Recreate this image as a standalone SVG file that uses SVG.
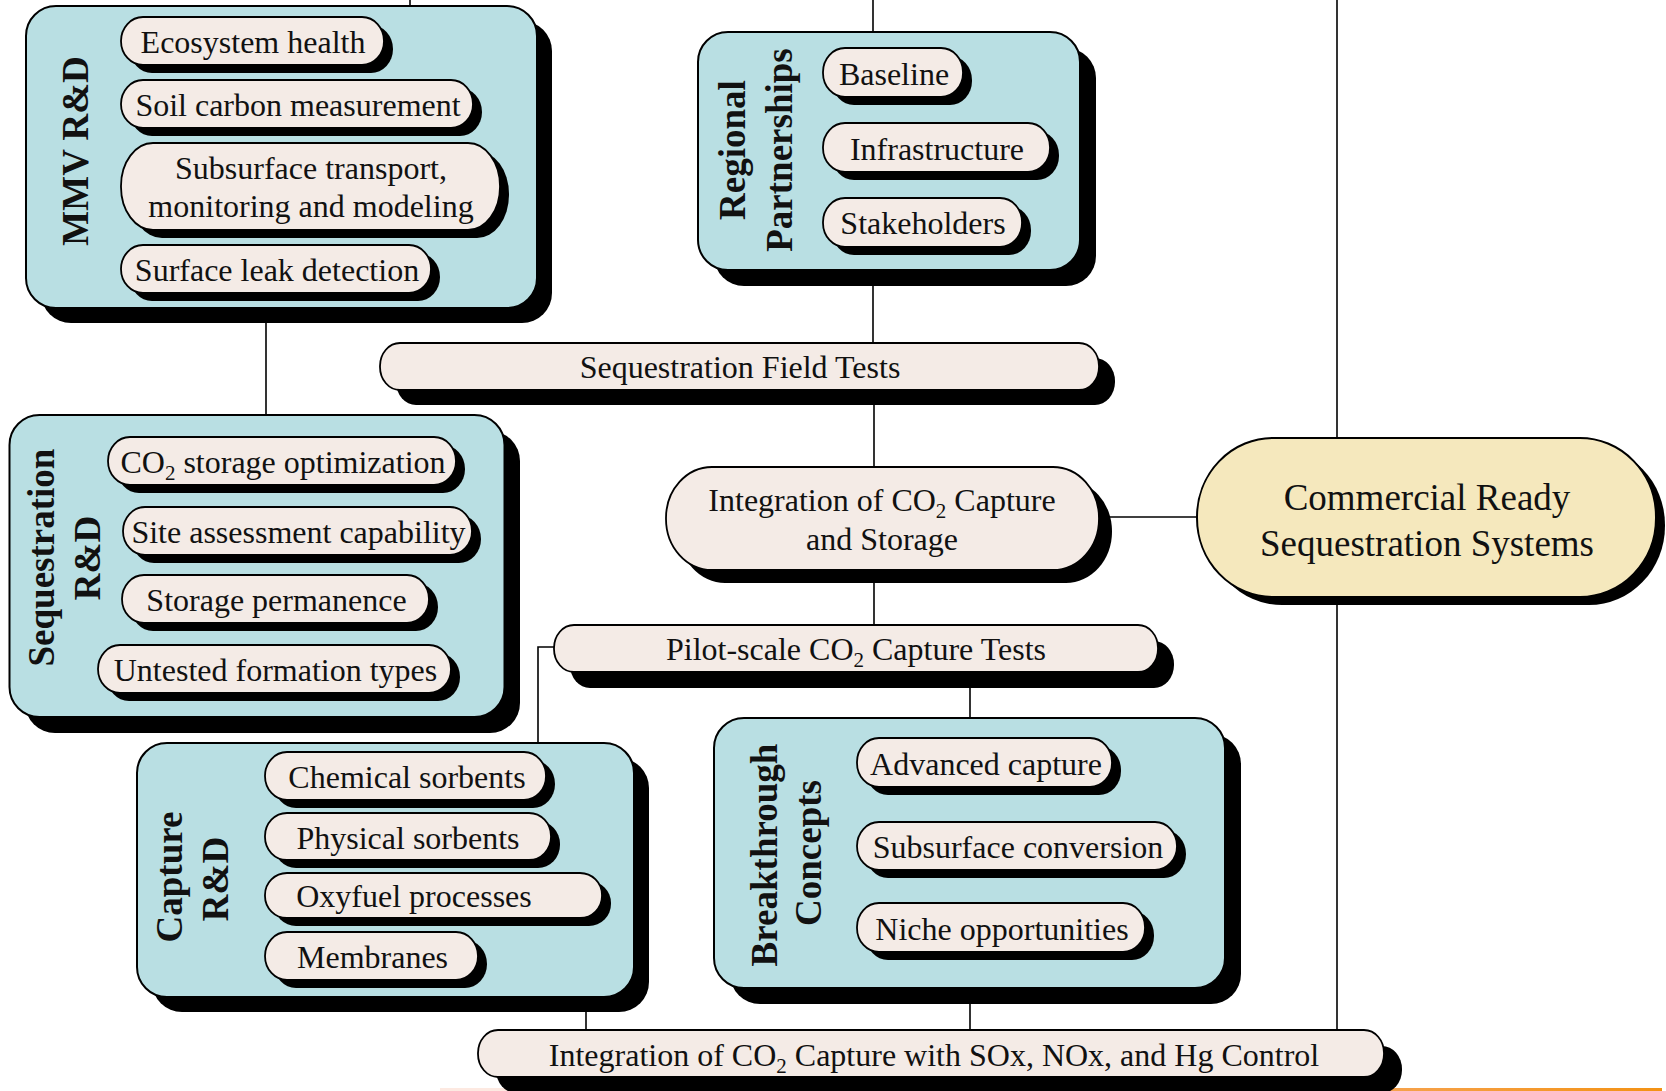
<svg xmlns="http://www.w3.org/2000/svg" width="1666" height="1091" viewBox="0 0 1666 1091">
  <defs>
    <linearGradient id="orangeStrip" x1="0" y1="0" x2="1" y2="0">
      <stop offset="0" stop-color="#f6a24c"/>
      <stop offset="1" stop-color="#f39214"/>
    </linearGradient>
  </defs>
  <style>
    .box { fill: #b9dfe3; stroke: #000; stroke-width: 2; }
    .pill { fill: #f4ebe6; stroke: #000; stroke-width: 1.8; }
    .goal { fill: #f5e8bd; stroke: #000; stroke-width: 2; }
    .shadow { fill: #000; }
    .wire { fill: none; stroke: #000; stroke-width: 1.6; }
    .t { font-family: "Liberation Serif", "Times New Roman", serif; font-size: 32px; text-anchor: middle; fill: #111; }
    .lbl { font-family: "Liberation Serif", "Times New Roman", serif; font-size: 37px; font-weight: bold; text-anchor: middle; fill: #111; }
    .big { font-size: 37px; }
    .sub { font-size: 21px; }
  </style>

  <rect width="1666" height="1091" fill="#fff"/>

  <!-- footer strip -->
  <rect x="440" y="1088" width="950" height="3" fill="#fde9e1"/>
  <rect x="1390" y="1088" width="272" height="3" fill="url(#orangeStrip)"/>

  <!-- connectors -->
  <g id="connectors">
    <path class="wire" d="M410,0 V8"/>
    <path class="wire" d="M266,300 V417"/>
    <path class="wire" d="M873,0 V34"/>
    <path class="wire" d="M873,268 V345"/>
    <path class="wire" d="M874,388 V469"/>
    <path class="wire" d="M874,568 V627"/>
    <path class="wire" d="M1097,517 H1199"/>
    <path class="wire" d="M1337,0 V440"/>
    <path class="wire" d="M1337,595 V1032"/>
    <path class="wire" d="M555,647 H538 V745"/>
    <path class="wire" d="M970,670 V720"/>
    <path class="wire" d="M586,995 V1032"/>
    <path class="wire" d="M970,986 V1032"/>
  </g>

  <!-- MMV R&D -->
  <g id="mmv-rd">
    <rect class="shadow" x="41" y="21" width="511" height="302" rx="30"/>
    <rect class="box" x="26" y="6" width="511" height="302" rx="30"/>
    <text class="lbl" transform="translate(87.5,151) rotate(-90)">MMV R&amp;D</text>
    <g id="ecosystem-health">
      <rect class="shadow" x="130" y="25" width="263" height="48" rx="22" ry="24"/>
      <rect class="pill" x="121" y="17" width="263" height="48" rx="22" ry="24"/>
      <text class="t" x="253" y="52.5">Ecosystem health</text>
    </g>
    <g id="soil-carbon">
      <rect class="shadow" x="130" y="88" width="352" height="48" rx="22" ry="24"/>
      <rect class="pill" x="121" y="80" width="352" height="48" rx="22" ry="24"/>
      <text class="t" x="298" y="115.5">Soil carbon measurement</text>
    </g>
    <g id="subsurface-transport">
      <rect class="shadow" x="130" y="151" width="379" height="87" rx="32" ry="43"/>
      <rect class="pill" x="121" y="143" width="379" height="87" rx="32" ry="43"/>
      <text class="t" x="311" y="179">Subsurface transport,</text>
      <text class="t" x="311" y="217">monitoring and modeling</text>
    </g>
    <g id="surface-leak">
      <rect class="shadow" x="130" y="253" width="310" height="48" rx="22" ry="24"/>
      <rect class="pill" x="121" y="245" width="310" height="48" rx="22" ry="24"/>
      <text class="t" x="277" y="280.5">Surface leak detection</text>
    </g>
  </g>

  <!-- Regional Partnerships -->
  <g id="regional-partnerships">
    <rect class="shadow" x="714" y="48" width="382" height="238" rx="30"/>
    <rect class="box" x="698" y="32" width="382" height="238" rx="30"/>
    <text class="lbl" transform="translate(745,150) rotate(-90)">Regional</text>
    <text class="lbl" transform="translate(792,150) rotate(-90)">Partnerships</text>
    <g id="baseline">
      <rect class="shadow" x="832" y="56" width="140" height="49" rx="22" ry="24"/>
      <rect class="pill" x="823" y="48" width="140" height="49" rx="22" ry="24"/>
      <text class="t" x="894" y="84.5">Baseline</text>
    </g>
    <g id="infrastructure">
      <rect class="shadow" x="832" y="131" width="227" height="49" rx="22" ry="24"/>
      <rect class="pill" x="823" y="123" width="227" height="49" rx="22" ry="24"/>
      <text class="t" x="937" y="159.5">Infrastructure</text>
    </g>
    <g id="stakeholders">
      <rect class="shadow" x="832" y="206" width="199" height="49" rx="22" ry="24"/>
      <rect class="pill" x="823" y="198" width="199" height="49" rx="22" ry="24"/>
      <text class="t" x="923" y="234">Stakeholders</text>
    </g>
  </g>

  <!-- Sequestration Field Tests -->
  <g id="sequestration-field-tests">
    <rect class="shadow" x="396" y="358" width="719" height="47" rx="20" ry="23"/>
    <rect class="pill" x="380" y="343" width="719" height="47" rx="20" ry="23"/>
    <text class="t" x="740" y="378">Sequestration Field Tests</text>
  </g>

  <!-- Sequestration R&D -->
  <g id="sequestration-rd">
    <rect class="shadow" x="25" y="431" width="495" height="302" rx="30"/>
    <rect class="box" x="9.5" y="415" width="495" height="302" rx="30"/>
    <text class="lbl" transform="translate(54,557.5) rotate(-90)">Sequestration</text>
    <text class="lbl" transform="translate(100,558) rotate(-90)">R&amp;D</text>
    <g id="co2-storage">
      <rect class="shadow" x="117" y="445" width="348" height="48" rx="22" ry="24"/>
      <rect class="pill" x="108" y="437" width="348" height="48" rx="22" ry="24"/>
      <text class="t" x="283" y="472.5">CO<tspan class="sub" dy="7">2</tspan><tspan dy="-7"> storage optimization</tspan></text>
    </g>
    <g id="site-assessment">
      <rect class="shadow" x="132" y="515" width="349" height="48" rx="22" ry="24"/>
      <rect class="pill" x="123" y="507" width="349" height="48" rx="22" ry="24"/>
      <text class="t" x="298.5" y="542.5">Site assessment capability</text>
    </g>
    <g id="storage-permanence">
      <rect class="shadow" x="131" y="583" width="307" height="48" rx="22" ry="24"/>
      <rect class="pill" x="122" y="575" width="307" height="48" rx="22" ry="24"/>
      <text class="t" x="276.5" y="610.5">Storage permanence</text>
    </g>
    <g id="untested-formation">
      <rect class="shadow" x="107" y="653" width="353" height="48" rx="22" ry="24"/>
      <rect class="pill" x="98" y="645" width="353" height="48" rx="22" ry="24"/>
      <text class="t" x="275.5" y="680.5">Untested formation types</text>
    </g>
  </g>

  <!-- Integration of CO2 Capture and Storage -->
  <g id="integration-ccs">
    <rect class="shadow" x="679" y="480" width="433" height="103" rx="46" ry="51"/>
    <rect class="pill" x="666" y="467" width="433" height="103" rx="46" ry="51"/>
    <text class="t" x="882" y="511">Integration of CO<tspan class="sub" dy="7">2</tspan><tspan dy="-7"> Capture</tspan></text>
    <text class="t" x="882" y="550">and Storage</text>
  </g>

  <!-- Commercial Ready Sequestration Systems -->
  <g id="commercial-ready">
    <rect class="shadow" x="1206" y="446" width="459" height="159" rx="76" ry="79"/>
    <rect class="goal" x="1197" y="438" width="459" height="159" rx="76" ry="79"/>
    <text class="t big" x="1427" y="510">Commercial Ready</text>
    <text class="t big" x="1427" y="556">Sequestration Systems</text>
  </g>

  <!-- Pilot-scale CO2 Capture Tests -->
  <g id="pilot-scale">
    <rect class="shadow" x="570" y="641" width="604" height="47" rx="20" ry="23"/>
    <rect class="pill" x="554" y="625" width="604" height="47" rx="20" ry="23"/>
    <text class="t" x="856" y="660">Pilot-scale CO<tspan class="sub" dy="7">2</tspan><tspan dy="-7"> Capture Tests</tspan></text>
  </g>

  <!-- Capture R&D -->
  <g id="capture-rd">
    <rect class="shadow" x="152" y="758" width="497" height="254" rx="30"/>
    <rect class="box" x="137" y="743" width="497" height="254" rx="30"/>
    <text class="lbl" transform="translate(182,877) rotate(-90)">Capture</text>
    <text class="lbl" transform="translate(228,879) rotate(-90)">R&amp;D</text>
    <g id="chemical-sorbents">
      <rect class="shadow" x="274" y="760" width="281" height="48" rx="22" ry="24"/>
      <rect class="pill" x="265" y="752" width="281" height="48" rx="22" ry="24"/>
      <text class="t" x="407" y="787.5">Chemical sorbents</text>
    </g>
    <g id="physical-sorbents">
      <rect class="shadow" x="274" y="821" width="286" height="47" rx="22" ry="23"/>
      <rect class="pill" x="265" y="813" width="286" height="47" rx="22" ry="23"/>
      <text class="t" x="408" y="848.5">Physical sorbents</text>
    </g>
    <g id="oxyfuel">
      <rect class="shadow" x="274" y="881" width="337" height="45" rx="22" ry="22"/>
      <rect class="pill" x="265" y="873" width="337" height="45" rx="22" ry="22"/>
      <text class="t" x="414" y="907">Oxyfuel processes</text>
    </g>
    <g id="membranes">
      <rect class="shadow" x="274" y="940" width="213" height="48" rx="22" ry="24"/>
      <rect class="pill" x="265" y="932" width="213" height="48" rx="22" ry="24"/>
      <text class="t" x="372.5" y="967.5">Membranes</text>
    </g>
  </g>

  <!-- Breakthrough Concepts -->
  <g id="breakthrough-concepts">
    <rect class="shadow" x="730" y="734" width="511" height="270" rx="30"/>
    <rect class="box" x="714" y="718" width="511" height="270" rx="30"/>
    <text class="lbl" transform="translate(777,855) rotate(-90)">Breakthrough</text>
    <text class="lbl" transform="translate(821,853) rotate(-90)">Concepts</text>
    <g id="advanced-capture">
      <rect class="shadow" x="866" y="746" width="255" height="49" rx="22" ry="24"/>
      <rect class="pill" x="857" y="738" width="255" height="49" rx="22" ry="24"/>
      <text class="t" x="986" y="774.5">Advanced capture</text>
    </g>
    <g id="subsurface-conversion">
      <rect class="shadow" x="866" y="830" width="320" height="48" rx="22" ry="24"/>
      <rect class="pill" x="857" y="822" width="320" height="48" rx="22" ry="24"/>
      <text class="t" x="1018" y="857.5">Subsurface conversion</text>
    </g>
    <g id="niche-opportunities">
      <rect class="shadow" x="866" y="911" width="288" height="49" rx="22" ry="24"/>
      <rect class="pill" x="857" y="903" width="288" height="49" rx="22" ry="24"/>
      <text class="t" x="1002" y="939.5">Niche opportunities</text>
    </g>
  </g>

  <!-- Integration of CO2 Capture with SOx, NOx, and Hg Control -->
  <g id="integration-multipollutant">
    <rect class="shadow" x="496" y="1046" width="906" height="47" rx="20" ry="23"/>
    <rect class="pill" x="478" y="1030" width="906" height="47" rx="20" ry="23"/>
    <text class="t" x="934" y="1065.5">Integration of CO<tspan class="sub" dy="7">2</tspan><tspan dy="-7"> Capture with SOx, NOx, and Hg Control</tspan></text>
  </g>
</svg>
